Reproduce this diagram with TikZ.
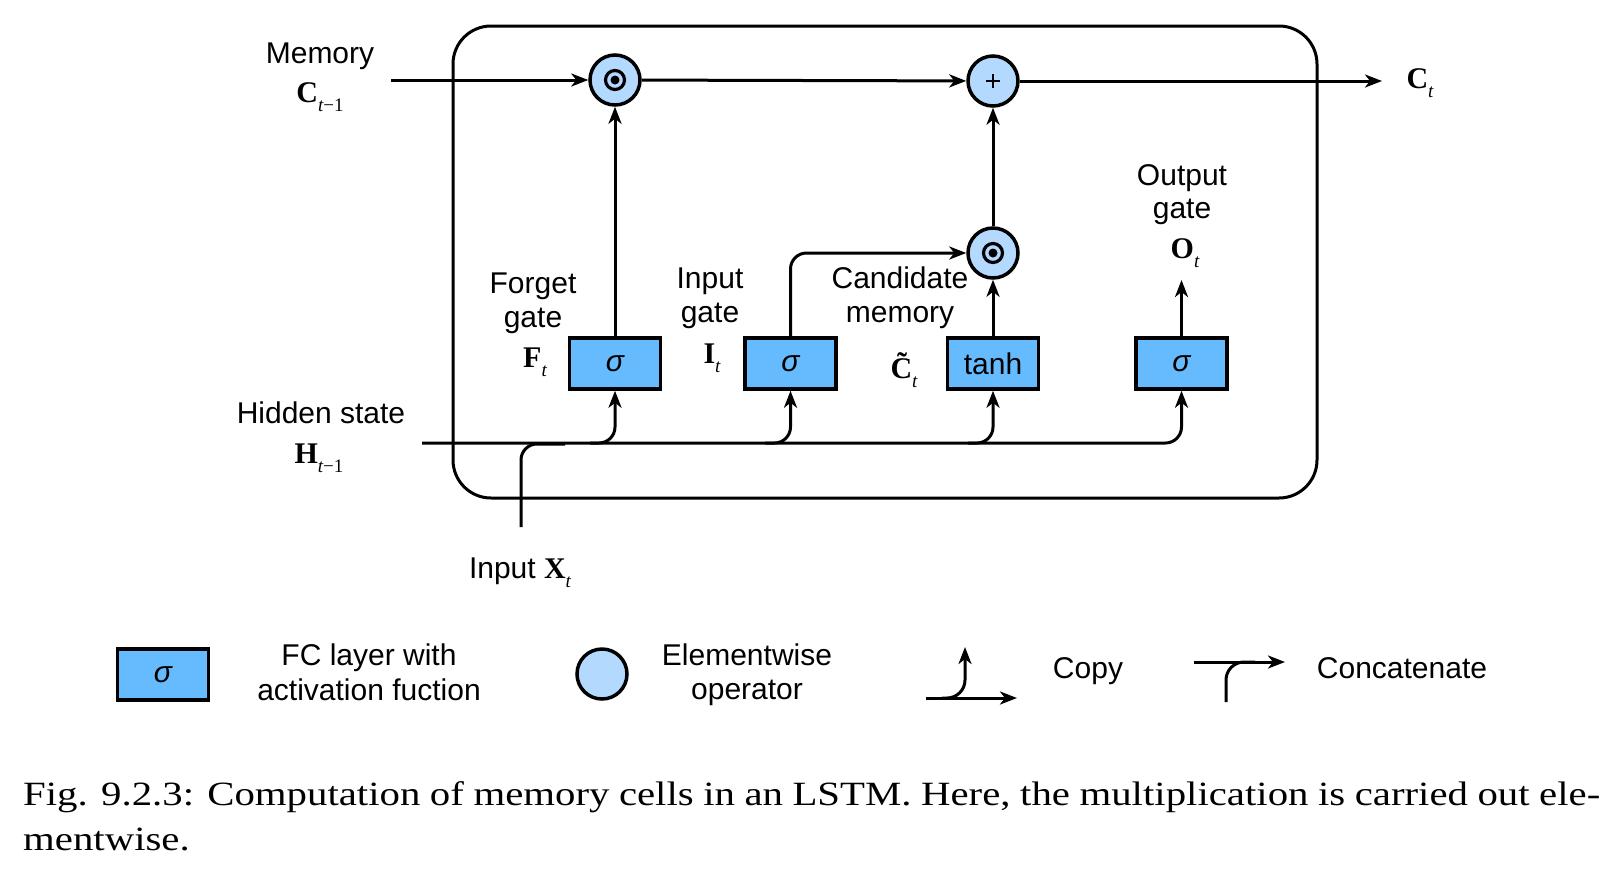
\documentclass[tikz,border=0pt]{standalone}
\usepackage{fontspec}
\setmainfont{Liberation Sans}
\newfontfamily\tms{Liberation Serif}
\newfontfamily\capfont[FakeStretch=1.2]{Liberation Serif}
\usetikzlibrary{arrows.meta,calc}
\definecolor{boxblue}{HTML}{66BBFF}
\definecolor{opblue}{HTML}{B3D9FF}
\newcommand\vsym[2]{{\tms\bfseries #1}\raisebox{-9pt}{\fontsize{19}{19}\selectfont\tms\itshape #2}}
\begin{document}
\begin{tikzpicture}[x=1pt,y=-1pt,font=\fontsize{30}{35}\selectfont,
  fc/.style={draw, line width=3.5pt, fill=boxblue, minimum width=91pt, minimum height=51pt, inner sep=0pt},
  op/.style={circle, draw, line width=3.5pt, fill=opblue, minimum size=50pt, inner sep=0pt},
  dotop/.style={op, path picture={
      \draw[black, line width=3.2pt] (path picture bounding box.center) circle (9.5pt);
      \fill[black] (path picture bounding box.center) circle (4.5pt);}},
  plusop/.style={op, path picture={
      \draw[black, line width=2pt] ([xshift=-7pt]path picture bounding box.center) -- ([xshift=7pt]path picture bounding box.center);
      \draw[black, line width=2pt] ([yshift=-7pt]path picture bounding box.center) -- ([yshift=7pt]path picture bounding box.center);}},
  wire/.style={line width=3pt},
  arr/.style={line width=3pt, -{Stealth[length=17pt,width=13pt,inset=5pt]}},
  lbl/.style={anchor=base, inner sep=0pt}]
\useasboundingbox (0,0) rectangle (1614,876);

% frame
\draw[line width=3pt, rounded corners=38pt] (453,26) rectangle (1317,498);

% operators and layers
\node[dotop] (c1) at (615,80) {};
\node[plusop] (cp) at (993,81) {};
\node[dotop] (cm) at (993,253) {};
\node[fc] (fb) at (615,363.5) {\itshape σ};
\node[fc] (ib) at (790.5,363.5) {\itshape σ};
\node[fc] (tb) at (993,363.5) {tanh};
\node[fc] (ob) at (1181.5,363.5) {\itshape σ};

% coordinates
\coordinate (min) at (391,80);
\coordinate (cout) at (1382,81);
\coordinate (oout) at (1181.5,280);
\coordinate (hin) at (422,443);
\coordinate (bf) at (590,443);
\coordinate (bi) at (765,443);
\coordinate (bt) at (968,443);
\coordinate (xin) at (521,527);
\coordinate (xj) at (565,444);

% connectors
\draw[arr] (min) -- (c1);
\draw[arr] (c1) -- (cp);
\draw[arr] (cp) -- (cout);
\draw[arr] (fb) -- (c1);
\draw[arr, rounded corners=16pt] (ib.north) |- (cm.west);
\draw[arr] (tb) -- (cm);
\draw[arr] (cm) -- (cp);
\draw[arr] (ob) -- (oout);
\draw[arr, rounded corners=16pt] (hin) -| (ob.south);
\draw[arr, rounded corners=16pt] (bf) -| (fb.south);
\draw[arr, rounded corners=16pt] (bi) -| (ib.south);
\draw[arr, rounded corners=16pt] (bt) -| (tb.south);
\draw[wire, rounded corners=16pt] (xin) |- (xj);

% labels
\node[lbl] (tmem) at (320,63) {Memory};
\node[lbl] (tcprev) at (320,102) {\vsym{C}{t{\upshape −1}}};
\node[lbl] (tct) at (1420,88) {\vsym{C}{t}};
\node[lbl] (tf1) at (533,293) {Forget};
\node[lbl] (tf2) at (533,327) {gate};
\node[lbl] (tf3) at (535,367) {\vsym{F}{t}};
\node[lbl] (ti1) at (710,288) {Input};
\node[lbl] (ti2) at (710,322) {gate};
\node[lbl] (ti3) at (712,363) {\vsym{I}{t}};
\node[lbl] (tc1) at (900,288) {Candidate};
\node[lbl] (tc2) at (900,322) {memory};
\node[lbl] (tc3) at (904,378) {\vsym{\~{C}}{t}};
\node[lbl] (to1) at (1182,185) {Output};
\node[lbl] (to2) at (1182,218) {gate};
\node[lbl] (to3) at (1185,258) {\vsym{O}{t}};
\node[lbl] (th1) at (321,423) {Hidden state};
\node[lbl] (th2) at (319,463) {\vsym{H}{t{\upshape −1}}};
\node[lbl] (tx) at (520,578) {Input \vsym{X}{t}};

% legend
\node[fc] (lbox) at (163,674.5) {\itshape σ};
\node[lbl] (lt1) at (369,665) {FC layer with};
\node[lbl] (lt2) at (369,700) {activation fuction};
\node[op] (lcirc) at (602,674) {};
\node[lbl] (lt3) at (747,665) {Elementwise};
\node[lbl] (lt4) at (747,699) {operator};
\coordinate (cpa) at (926,698);
\coordinate (cpb) at (1017,698);
\coordinate (cpc) at (942,698);
\coordinate (cpd) at (965,647);
\draw[arr] (cpa) -- (cpb);
\draw[arr, rounded corners=18pt] (cpc) -| (cpd);
\node[lbl] (lt5) at (1088,678) {Copy};
\coordinate (cca) at (1194,662);
\coordinate (ccb) at (1285,662);
\coordinate (ccc) at (1226,702);
\coordinate (ccd) at (1255,662);
\draw[arr] (cca) -- (ccb);
\draw[wire, rounded corners=18pt] (ccc) |- (ccd);
\node[lbl] (lt6) at (1402,678) {Concatenate};

% caption
\node[anchor=base west, inner sep=0pt, font=\capfont\fontsize{34}{40}\selectfont] (cap1) at (23,805)
  {\makebox[1577pt][s]{Fig. 9.2.3: Computation of memory cells in an LSTM. Here, the multiplication is carried out ele-}};
\node[anchor=base west, inner sep=0pt, font=\capfont\fontsize{34}{40}\selectfont] (cap2) at (23,850) {mentwise.};
\end{tikzpicture}
\end{document}
